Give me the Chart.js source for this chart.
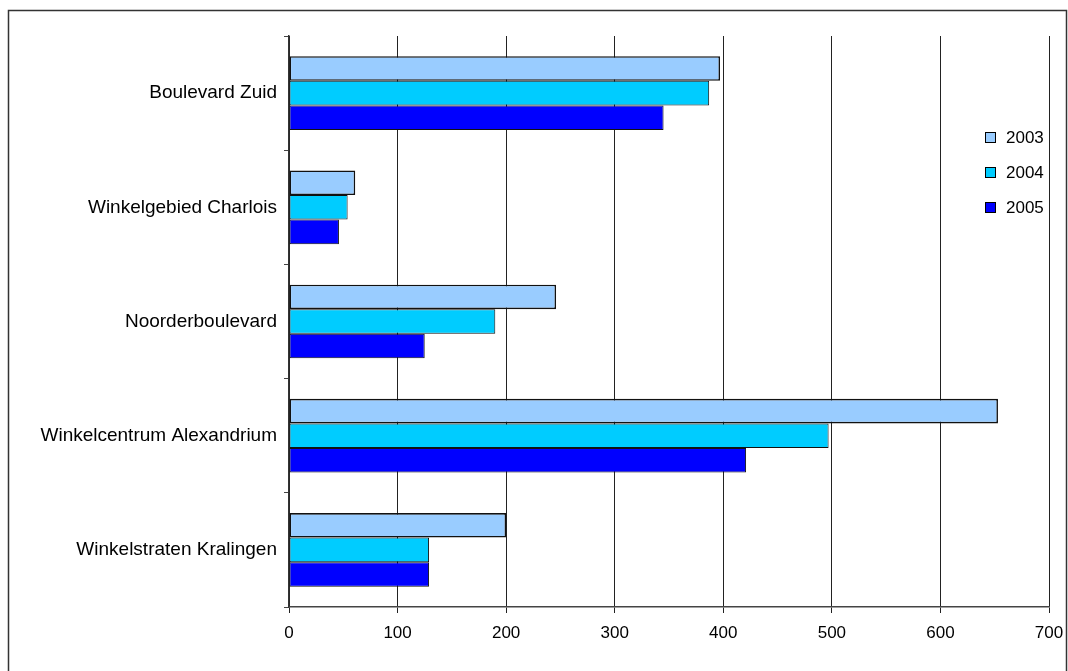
<!DOCTYPE html>
<html>
<head>
<meta charset="utf-8">
<script src="https://cdn.jsdelivr.net/npm/chart.js@4/dist/chart.umd.min.js"></script>
<style>
  html, body { margin: 0; padding: 0; background: #fff; }
  #wrap { width: 1068px; height: 671px; }
</style>
</head>
<body>
<div id="wrap"><canvas id="chart" width="1068" height="671"></canvas></div>
<script>
const categories = [
  "Boulevard Zuid",
  "Winkelgebied Charlois",
  "Noorderboulevard",
  "Winkelcentrum Alexandrium",
  "Winkelstraten Kralingen"
];
const years = ["2003", "2004", "2005"];
const values2003 = [397, 61, 246, 653, 200];
const values2004 = [387, 54, 190, 497, 129];
const values2005 = [345, 46, 125, 421, 129];
const xTicks = [0, 100, 200, 300, 400, 500, 600, 700];

const colors = ["#99CCFF", "#00CCFF", "#0000FF"];
const FONT = "'Liberation Sans', Arial, sans-serif";

// frame round the whole chart + legend drawn inside the plot
const framePlugin = {
  id: "frame",
  afterDraw(chart) {
    const ctx = chart.ctx;
    ctx.save();
    ctx.strokeStyle = "#333";
    ctx.lineWidth = 1.5;
    ctx.strokeRect(8.5, 10.5, 1058, 680);

    ctx.font = "17px " + FONT;
    ctx.textBaseline = "middle";
    chart.data.datasets.forEach((ds, i) => {
      const y = 138 + i * 35;
      ctx.fillStyle = ds.backgroundColor;
      ctx.fillRect(985.5, y - 5.5, 10, 10);
      ctx.strokeStyle = "#000";
      ctx.lineWidth = 1;
      ctx.strokeRect(985.5, y - 5.5, 10, 10);
      ctx.fillStyle = "#000";
      ctx.fillText(ds.label, 1006, y);
    });
    ctx.restore();
  }
};

new Chart(document.getElementById("chart").getContext("2d"), {
  type: "bar",
  data: {
    labels: categories,
    datasets: [
      { label: years[0], data: values2003, backgroundColor: colors[0], borderWidth: 1.6 },
      { label: years[1], data: values2004, backgroundColor: colors[1], borderWidth: 1 },
      { label: years[2], data: values2005, backgroundColor: colors[2], borderWidth: 1 }
    ].map(ds => Object.assign(ds, {
      borderColor: "#111",
      borderSkipped: false,
      categoryPercentage: 0.645,
      barPercentage: 1
    }))
  },
  options: {
    indexAxis: "y",
    responsive: false,
    animation: false,
    layout: { padding: { top: 36, right: 19, left: 0, bottom: 0 } },
    plugins: {
      legend: { display: false },
      tooltip: { enabled: false }
    },
    scales: {
      x: {
        min: 0,
        max: 700,
        afterBuildTicks: s => { s.ticks = xTicks.map(v => ({ value: v })); },
        afterFit: s => { s.height = 64; s.paddingRight = 0; s.paddingLeft = 0; },
        grid: { color: "#222", lineWidth: 1, tickLength: 6, drawTicks: true },
        border: { color: "#444", width: 1.5 },
        ticks: { color: "#000", font: { family: FONT, size: 17 }, padding: 10, maxRotation: 0 }
      },
      y: {
        afterFit: s => { s.width = 289; },
        grid: { offset: true, drawOnChartArea: false, color: "#444", tickLength: 5 },
        border: { color: "#333", width: 1.5 },
        ticks: { color: "#000", font: { family: FONT, size: 19 }, padding: 7 }
      }
    }
  },
  plugins: [framePlugin]
});
</script>
</body>
</html>
